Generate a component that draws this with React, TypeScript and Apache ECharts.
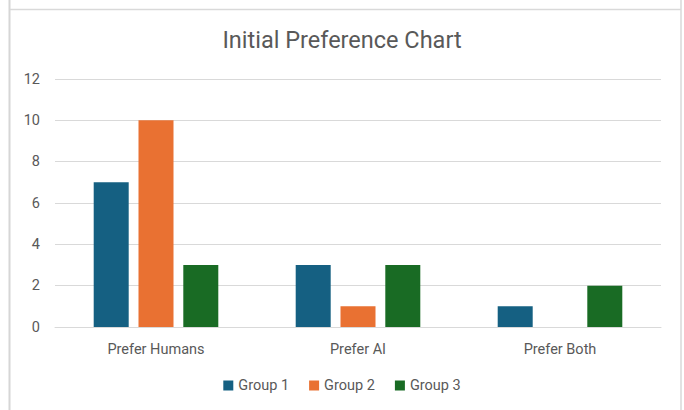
import React, { useEffect, useRef } from "react";
import * as echarts from "echarts";

const categories = ["Prefer Humans", "Prefer AI", "Prefer Both"];
const seriesNames = ["Group 1", "Group 2", "Group 3"];
const group1 = [7, 3, 1];
const group2 = [10, 1, 0];
const group3 = [3, 3, 2];
const colors = ["#156082", "#E97132", "#196B24"];

export default function App() {
  const ref = useRef<HTMLDivElement>(null);
  useEffect(() => {
    if (!ref.current) return;
    const chart = echarts.init(ref.current, null, { renderer: "svg" });
    const values = [group1, group2, group3];
    const font = "Roboto, 'Liberation Sans', sans-serif";
    chart.setOption({
      animation: false,
      backgroundColor: "#ffffff",
      title: {
        text: "Initial Preference Chart",
        left: "center",
        top: 23,
        textStyle: { color: "#595959", fontSize: 23.5, fontWeight: "normal", fontFamily: font },
      },
      legend: {
        bottom: 12,
        left: "center",
        itemWidth: 10,
        itemHeight: 10,
        itemGap: 20,
        icon: "rect",
        textStyle: { color: "#595959", fontSize: 14.5, fontFamily: font },
        data: seriesNames,
      },
      grid: { left: 55, right: 23, top: 79, bottom: 83 },
      xAxis: {
        type: "category",
        data: categories,
        axisLine: { lineStyle: { color: "#d9d9d9" } },
        axisTick: { show: false },
        axisLabel: { color: "#595959", fontSize: 14.5, margin: 15, fontFamily: font },
      },
      yAxis: {
        type: "value",
        min: 0,
        max: 12,
        interval: 2,
        axisLine: { show: false },
        axisTick: { show: false },
        axisLabel: { color: "#595959", fontSize: 14.5, margin: 15, fontFamily: font },
        splitLine: { lineStyle: { color: "#d9d9d9" } },
      },
      series: seriesNames.map((name, i) => ({
        name,
        type: "bar",
        data: values[i],
        barWidth: 35,
        barGap: "28%",
        itemStyle: { color: colors[i] },
      })),
      graphic: [
        { type: "line", shape: { x1: 9.5, y1: 0, x2: 9.5, y2: 410 }, style: { stroke: "#d6d6d6", lineWidth: 2 } },
        { type: "line", shape: { x1: 10, y1: 9.5, x2: 681, y2: 9.5 }, style: { stroke: "#d9d9d9", lineWidth: 1.5 } },
        { type: "line", shape: { x1: 681, y1: 0, x2: 681, y2: 410 }, style: { stroke: "#d9d9d9", lineWidth: 1.5 } },
      ],
    });
    return () => chart.dispose();
  }, []);
  return (
    <div
      ref={ref}
      style={{ position: "fixed", left: 0, top: 0, width: 684, height: 410 }}
    />
  );
}
